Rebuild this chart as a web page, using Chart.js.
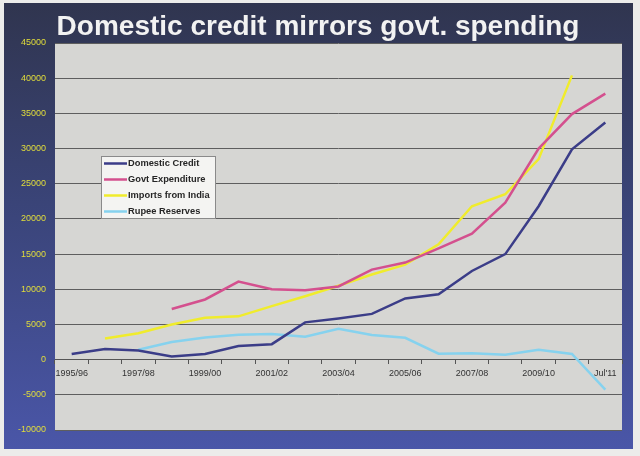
<!DOCTYPE html>
<html>
<head>
<meta charset="utf-8">
<script src="https://cdn.jsdelivr.net/npm/chart.js@4"></script>
<style>
  html, body { margin: 0; padding: 0; background: #ececea; }
  #wrap { width: 640px; height: 456px; }
</style>
</head>
<body>
<div id="wrap"><canvas id="chartCredit" width="640" height="456"></canvas></div>
<script>
// categories (fiscal years), labels shown on every other one
const years = ['1995/96', '1996/97', '1997/98', '1998/99', '1999/00', '2000/01', '2001/02', '2002/03',
  '2003/04', '2004/05', '2005/06', '2006/07', '2007/08', '2008/09', '2009/10', '2010/11', "Jul'11"];

const domesticCredit = [800, 1500, 1300, 450, 800, 1950, 2200, 5300, 5850, 6500, 8700, 9300, 12600, 15000, 21800, 29900, 33700];
const govtExpenditure = [null, null, null, 7200, 8550, 11100, 10000, 9850, 10400, 12800, 13800, 15800, 17900, 22300, 30000, 34900, 37800];
const importsIndia = [null, 3000, 3750, 5000, 5950, 6150, 7600, 9000, 10500, 12100, 13500, 16400, 21800, 23500, 28500, 40400, null];
const rupeeReserves = [null, null, 1400, 2500, 3150, 3550, 3650, 3250, 4400, 3500, 3100, 850, 900, 700, 1400, 800, -4250];

const yMin = -10000, yMax = 45000, yStep = 5000;
const titleText = 'Domestic credit mirrors govt. spending';

// panel, plot fill and title
const backdrop = {
  id: 'backdrop',
  beforeDraw(chart) {
    const ctx = chart.ctx, a = chart.chartArea;
    ctx.save();
    ctx.fillStyle = '#ececea';
    ctx.fillRect(0, 0, chart.width, chart.height);
    const g = ctx.createLinearGradient(0, 3, 0, 449);
    g.addColorStop(0, '#30354f');
    g.addColorStop(0.45, '#3a4478');
    g.addColorStop(1, '#4a56a8');
    ctx.fillStyle = g;
    ctx.fillRect(4, 3, 629, 446);
    ctx.fillStyle = '#d6d6d3';
    ctx.fillRect(a.left, a.top, a.right - a.left, a.bottom - a.top);
    ctx.fillStyle = '#f2f2f2';
    ctx.font = 'bold 28px "Liberation Sans", Arial, sans-serif';
    ctx.textAlign = 'center';
    ctx.textBaseline = 'alphabetic';
    ctx.fillText(titleText, 318, 35);
    ctx.restore();
  }
};

// boxed legend inside the plot
const boxLegend = {
  id: 'boxLegend',
  afterDatasetsDraw(chart) {
    const ctx = chart.ctx;
    ctx.save();
    ctx.fillStyle = '#f4f4f2';
    ctx.fillRect(101, 156, 115, 63);
    ctx.strokeStyle = '#8a8a8a';
    ctx.lineWidth = 1;
    ctx.strokeRect(101.5, 156.5, 114, 62);
    ctx.font = 'bold 9.3px "Liberation Sans", Arial, sans-serif';
    ctx.textBaseline = 'middle';
    ctx.textAlign = 'left';
    chart.data.datasets.forEach((ds, i) => {
      const y = 163.5 + i * 16;
      ctx.strokeStyle = ds.borderColor;
      ctx.lineWidth = 2.5;
      ctx.beginPath();
      ctx.moveTo(104, y);
      ctx.lineTo(127, y);
      ctx.stroke();
      ctx.fillStyle = '#262626';
      ctx.fillText(ds.label, 128, y);
    });
    ctx.restore();
  }
};

new Chart(document.getElementById('chartCredit'), {
  type: 'line',
  data: {
    labels: years,
    datasets: [{
      label: 'Domestic Credit',
      data: domesticCredit,
      borderColor: '#3b3d88'
    }, {
      label: 'Govt Expenditure',
      data: govtExpenditure,
      borderColor: '#d4508e'
    }, {
      label: 'Imports from India',
      data: importsIndia,
      borderColor: '#f0ec2c'
    }, {
      label: 'Rupee Reserves',
      data: rupeeReserves,
      borderColor: '#86d2ee'
    }]
  },
  options: {
    responsive: false,
    animation: false,
    elements: {
      line: { borderWidth: 2.5, tension: 0, fill: false },
      point: { radius: 0, hoverRadius: 0 }
    },
    layout: { padding: { top: 43, bottom: 26, left: 0, right: 18 } },
    plugins: {
      legend: { display: false },
      title: { display: false },
      tooltip: { enabled: false }
    },
    scales: {
      x: {
        position: { y: 0 },
        offset: true,
        grid: { drawOnChartArea: false, offset: true, tickLength: 4, color: '#555', lineWidth: 1 },
        border: { display: true, color: '#555', width: 1 },
        ticks: {
          autoSkip: false,
          maxRotation: 0,
          padding: 4,
          color: '#333',
          font: { family: '"Liberation Sans", Arial, sans-serif', size: 9 },
          callback: function(v, i) { return i % 2 === 0 ? years[i] : ''; }
        }
      },
      y: {
        min: yMin,
        max: yMax,
        afterFit: function(scale) { scale.width = 55; },
        grid: { color: '#5e5e5e', lineWidth: 1, drawTicks: false },
        border: { display: false },
        ticks: {
          stepSize: yStep,
          padding: 9,
          color: '#e2de3a',
          font: { family: '"Liberation Sans", Arial, sans-serif', size: 9 },
          callback: function(v) { return String(v); }
        }
      }
    }
  },
  plugins: [backdrop, boxLegend]
});
</script>
</body>
</html>
